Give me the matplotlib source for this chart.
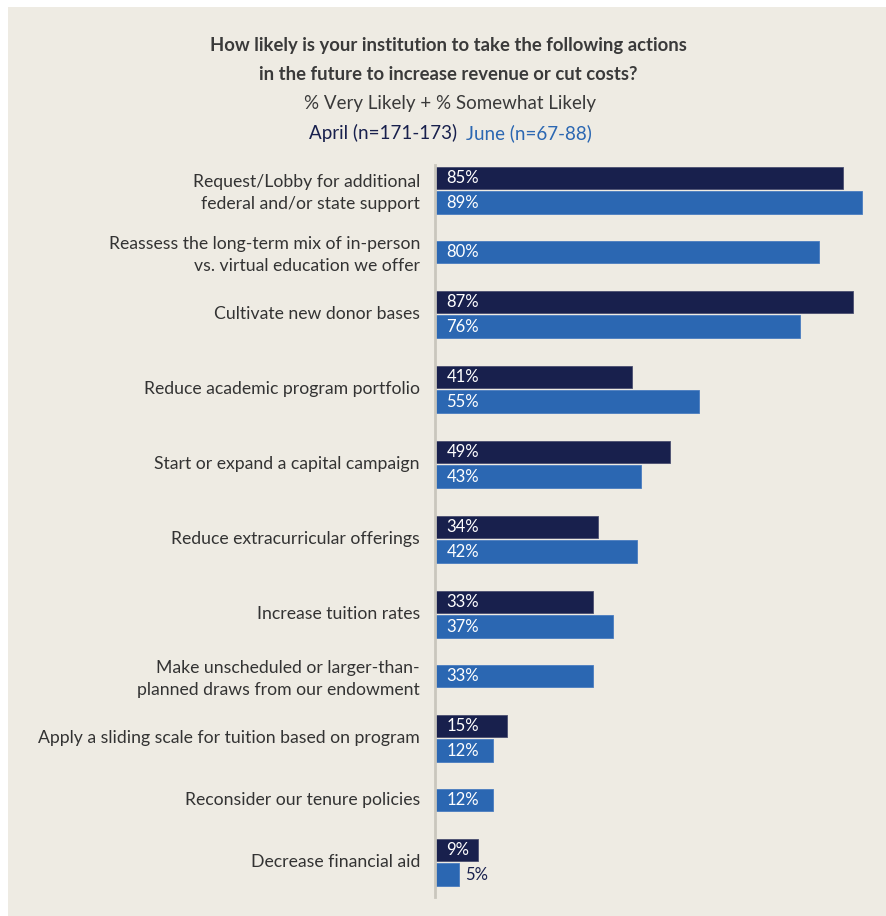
import matplotlib
matplotlib.use("Agg")
import matplotlib.pyplot as plt
from matplotlib.patches import Rectangle
import numpy as np

plt.rcParams['font.family'] = ['Lato', 'DejaVu Sans']

categories = [
    "Request/Lobby for additional\nfederal and/or state support",
    "Reassess the long-term mix of in-person\nvs. virtual education we offer",
    "Cultivate new donor bases",
    "Reduce academic program portfolio",
    "Start or expand a capital campaign",
    "Reduce extracurricular offerings",
    "Increase tuition rates",
    "Make unscheduled or larger-than-\nplanned draws from our endowment",
    "Apply a sliding scale for tuition based on program",
    "Reconsider our tenure policies",
    "Decrease financial aid",
]
april = [85, None, 87, 41, 49, 34, 33, None, 15, None, 9]
june = [89, 80, 76, 55, 43, 42, 37, 33, 12, 12, 5]

APRIL_COLOR = "#18204d"
JUNE_COLOR = "#2b67b2"
BG = "#eeebe3"
TEXT = "#333333"

W, H = 886, 916
fig = plt.figure(figsize=(W / 100, H / 100), dpi=100)
fig.patch.set_facecolor("white")
fig.add_artist(Rectangle((8 / W, 0), 1 - 8 / W, 1 - 7 / H, transform=fig.transFigure,
                         facecolor=BG, edgecolor="none", zorder=-10))

# axes geometry in pixels (vertical units are pixels from top)
x0_px, y_top, y_bot = 435, 150, 905
px_per_pct = 4.8
ax = fig.add_axes([x0_px / W, 1 - y_bot / H, (W - x0_px) / W, (y_bot - y_top) / H])
ax.set_xlim(0, (W - x0_px) / px_per_pct)
ax.set_ylim(y_bot, y_top)
ax.axis("off")
ax.patch.set_alpha(0)

bar_h = 22.5
off = 12.3
band_pair, band_single = 75, 49
bands = [band_pair if a is not None else band_single for a in april]
centers = []
c = 190.2
for i, b in enumerate(bands):
    if i > 0:
        c += bands[i - 1] / 2 + b / 2
    centers.append(c)

label_fs = 12
for i, (cat, a, j, yc) in enumerate(zip(categories, april, june, centers)):
    if a is not None:
        ya, yj = yc - off, yc + off
        ax.barh(ya, a, height=bar_h, color=APRIL_COLOR, edgecolor="#4a4f70", linewidth=0.6)
        ax.text(2.4, ya, f"{a}%", color="white", va="center", ha="left", fontsize=label_fs)
    else:
        yj = yc
    ax.barh(yj, j, height=bar_h, color=JUNE_COLOR, edgecolor="#4a7cc0", linewidth=0.6)
    if j >= 8:
        ax.text(2.4, yj, f"{j}%", color="white", va="center", ha="left", fontsize=label_fs)
    else:
        ax.text(j + 1.3, yj, f"{j}%", color=APRIL_COLOR, va="center", ha="left", fontsize=label_fs)
    shift = 3 if "\n" in cat else 0
    fig.text(420 / W, 1 - (yc + shift) / H, cat, ha="right", va="center", fontsize=12.7,
             color=TEXT, linespacing=1.45)

# vertical baseline
ax.plot([0, 0], [165, 897], color="#c9c6bd", linewidth=2, clip_on=False)

# titles
fig.text(448 / W, 1 - 46 / H, "How likely is your institution to take the following actions",
         ha="center", va="center", fontsize=13.3, fontweight="bold", color="#3a3a3a")
fig.text(448 / W, 1 - 75 / H, "in the future to increase revenue or cut costs?",
         ha="center", va="center", fontsize=13.3, fontweight="bold", color="#3a3a3a")
fig.text(450 / W, 1 - 104 / H, "% Very Likely + % Somewhat Likely",
         ha="center", va="center", fontsize=13.5, color="#3a3a3a")
fig.text(457 / W, 1 - 133 / H, "April (n=171-173)", ha="right", va="center",
         fontsize=13.5, color=APRIL_COLOR)
fig.text(466 / W, 1 - 133 / H, "June (n=67-88)", ha="left", va="center",
         fontsize=13.5, color=JUNE_COLOR)

fig.savefig("out.png", dpi=100, facecolor=fig.get_facecolor())
